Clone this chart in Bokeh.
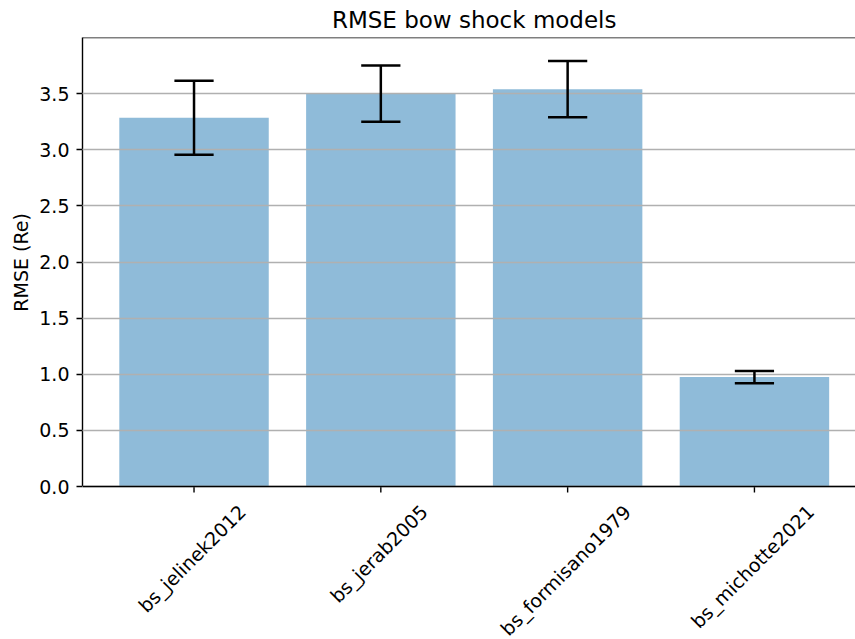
import math
from bokeh.plotting import figure
from bokeh.models import FixedTicker, Span, Range1d, Title
from bokeh.core.properties import value
from bokeh.embed import file_html
from bokeh.resources import INLINE

# ---- data ----
models = ["bs_jelinek2012", "bs_jerab2005", "bs_formisano1979", "bs_michotte2021"]
rmse = [3.285, 3.50, 3.54, 0.975]
rmse_err = [0.33, 0.25, 0.25, 0.055]
yticks = [0.0, 0.5, 1.0, 1.5, 2.0, 2.5, 3.0, 3.5]
ytick_labels = ["0.0", "0.5", "1.0", "1.5", "2.0", "2.5", "3.0", "3.5"]
title_text = "RMSE bow shock models"
ylabel_text = "RMSE (Re)"

FONT = "DejaVu Sans"
TICK_PX = 19
TITLE_PX = 23

# layout (pixels)
W, HGT = 855, 639
LEFT, TOP = 82, 37
AX_H = 449            # height of the 0..YMAX axes area
YMAX = 4.0
PPU = AX_H / YMAX      # pixels per y unit
BELOW = HGT - TOP - AX_H  # room under the axes for rotated labels
X0, X1 = -0.597, 3.541
PPX = (W - LEFT) / (X1 - X0)

# approximate DejaVu Sans advance widths (per 1000 em)
ADV = {"b": 635, "s": 521, "_": 500, "j": 278, "e": 615, "l": 278, "i": 278,
       "n": 634, "k": 579, "r": 411, "a": 613, "f": 352, "o": 612, "m": 974,
       "c": 550, "h": 634, "t": 392, "w": 818, "d": 635, "R": 695, "M": 863,
       "S": 635, "E": 632, " ": 318, "(": 390, ")": 390}
for d in "0123456789":
    ADV[d] = 636


def text_w(s, size):
    return sum(ADV.get(ch, 600) for ch in s) / 1000.0 * size


x = list(range(len(models)))
lower = [r - e for r, e in zip(rmse, rmse_err)]
upper = [r + e for r, e in zip(rmse, rmse_err)]
cap = 0.105

p = figure(width=W, height=HGT, x_range=Range1d(X0, X1),
           y_range=Range1d(-BELOW / PPU, YMAX),
           output_backend="svg", toolbar_location=None, title=title_text,
           min_border_left=LEFT, min_border_right=0, min_border_top=TOP, min_border_bottom=0)
p.outline_line_color = None
p.background_fill_color = "white"

# title centred over the axes' centre (data x = middle of the categories)
mid_px = ((x[0] + x[-1]) / 2 - X0) * PPX
p.title.text_font = FONT
p.title.text_font_size = f"{TITLE_PX}px"
p.title.text_font_style = "normal"
p.title.text_color = "black"
p.title.align = "left"
p.title.offset = mid_px - text_w(title_text, TITLE_PX) / 2
p.title.standoff = 9

p.vbar(x=x, top=rmse, width=0.8, fill_color="#1f77b4", fill_alpha=0.5, line_color=None)

EB_W = 2.5
eb = p.segment(x0=x, y0=lower, x1=x, y1=upper, line_color="black", line_width=EB_W)
eb.level = "overlay"
c1 = p.segment(x0=[v - cap for v in x], y0=upper, x1=[v + cap for v in x], y1=upper,
               line_color="black", line_width=EB_W)
c1.level = "overlay"
c2 = p.segment(x0=[v - cap for v in x], y0=lower, x1=[v + cap for v in x], y1=lower,
               line_color="black", line_width=EB_W)
c2.level = "overlay"

# grid
p.xgrid.grid_line_color = None
p.ygrid.grid_line_color = "#b0b0b0"
p.ygrid.grid_line_width = 1.4
p.ygrid.level = "annotation"
p.ygrid.ticker = FixedTicker(ticks=yticks)

# x axis is drawn by hand below the bars (spine, ticks, rotated labels)
p.xaxis.visible = False
p.add_layout(Span(location=0, dimension="width", line_color="black", line_width=1.4,
                  level="overlay"))
p.add_layout(Span(location=YMAX, dimension="width", line_color="black", line_width=1.4,
                  level="overlay"))
tick_len = 6 / PPU
p.segment(x0=x, y0=[0] * len(x), x1=x, y1=[-tick_len] * len(x),
          line_color="black", line_width=1.4)

H = TICK_PX * 1.17
label_y = [-(14 + (text_w(m, TICK_PX) + H) * math.sqrt(2) / 4) / PPU for m in models]
p.text(x=x, y=label_y, text=models, angle=math.pi / 4, x_offset=-2,
       text_align="center", text_baseline="middle",
       text_font=value(FONT), text_font_size=value(f"{TICK_PX}px"), text_color="black")

# y axis
p.yaxis.bounds = (0, YMAX)
p.yaxis.ticker = FixedTicker(ticks=yticks)
p.yaxis.major_label_overrides = {t: l for t, l in zip(yticks, ytick_labels)}
p.yaxis.minor_tick_line_color = None
p.yaxis.major_tick_in = 0
p.yaxis.major_tick_out = 6
p.yaxis.major_label_standoff = 7
p.yaxis.axis_line_width = 1.4
p.yaxis.major_tick_line_width = 1.4
p.yaxis.axis_line_color = "black"
p.yaxis.major_tick_line_color = "black"
p.yaxis.major_label_text_font = FONT
p.yaxis.major_label_text_font_size = f"{TICK_PX}px"
p.yaxis.major_label_text_color = "black"

# y axis label as a left-side title, centred on the 0..YMAX part
ylab = Title(text=ylabel_text, align="left",
             offset=BELOW + (AX_H - text_w(ylabel_text, TICK_PX)) / 2,
             text_font=FONT, text_font_size=f"{TICK_PX}px", text_font_style="normal",
             text_color="black", standoff=9)
p.add_layout(ylab, "left")

open("out.html", "w").write(file_html(p, INLINE))
